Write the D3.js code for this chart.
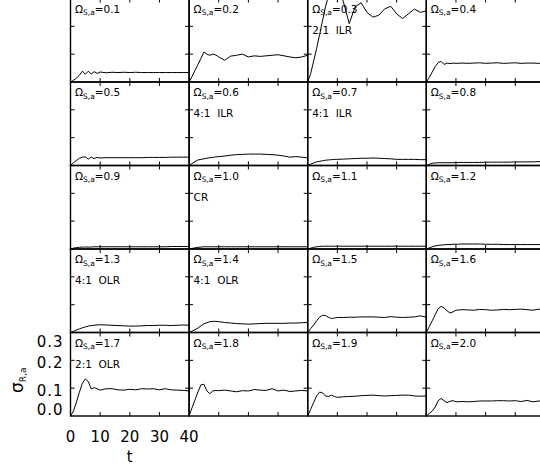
<!DOCTYPE html>
<html>
<head>
<meta charset="utf-8">
<script src="https://cdn.jsdelivr.net/npm/d3@7"></script>
<style>
  html, body { margin: 0; padding: 0; background: #fff; }
  svg { display: block; font-family: "DejaVu Sans", sans-serif; }
  text { white-space: pre; }
</style>
</head>
<body>
<svg id="chart" width="540" height="467"></svg>
<script>
// ---- data ----
const times = [0,1,2,3,4,5,6,7,8,9,10,12,14,16,18,20,22,24,26,28,30,32,34,36,38,40];

const omegaLabels = ["0.1","0.2","0.3","0.4","0.5","0.6","0.7","0.8","0.9","1.0",
                     "1.1","1.2","1.3","1.4","1.5","1.6","1.7","1.8","1.9","2.0"];
const resonanceLabels = ["","","2:1  ILR","","","4:1  ILR","4:1  ILR","","","CR",
                         "","","4:1  OLR","4:1  OLR","","","2:1  OLR","","",""];

const xTickValues = [0,10,20,30,40];
const xTickLabels = ["0","10","20","30","40"];
const yTickValues = [0,0.1,0.2,0.3];
const yTickLabels = ["0.0","0.1","0.2","0.3"];

const sigma01 = [0,0.006,0.014,0.024,0.039,0.028,0.039,0.029,0.037,0.031,0.036,0.033,0.035,0.034,0.035,0.034,0.035,0.034,0.034,0.034,0.034,0.034,0.034,0.034,0.034,0.034];
const sigma02 = [0,0.02,0.042,0.063,0.085,0.108,0.1,0.096,0.1,0.097,0.09,0.078,0.093,0.096,0.1,0.09,0.094,0.092,0.094,0.096,0.098,0.094,0.09,0.087,0.09,0.096];
const sigma03 = [0,0.03,0.075,0.12,0.17,0.22,0.27,0.31,0.34,0.35,0.34,0.29,0.21,0.27,0.285,0.25,0.233,0.24,0.263,0.272,0.245,0.228,0.245,0.262,0.25,0.256];
const sigma04 = [0,0.016,0.036,0.055,0.07,0.074,0.063,0.068,0.066,0.068,0.067,0.068,0.067,0.068,0.069,0.067,0.068,0.069,0.067,0.068,0.069,0.067,0.068,0.068,0.067,0.068];
const sigma05 = [0,0.01,0.018,0.026,0.03,0.031,0.023,0.03,0.025,0.029,0.027,0.028,0.028,0.028,0.028,0.028,0.028,0.028,0.029,0.029,0.029,0.029,0.03,0.03,0.03,0.03];
const sigma06 = [0,0.007,0.014,0.02,0.022,0.024,0.026,0.028,0.029,0.031,0.032,0.034,0.037,0.039,0.04,0.041,0.041,0.041,0.04,0.039,0.037,0.034,0.03,0.032,0.03,0.027];
const sigma07 = [0,0.005,0.009,0.013,0.015,0.017,0.019,0.02,0.021,0.022,0.022,0.023,0.024,0.025,0.026,0.026,0.027,0.026,0.025,0.024,0.022,0.022,0.022,0.022,0.021,0.021];
const sigma08 = [0,0.004,0.008,0.009,0.01,0.01,0.01,0.01,0.01,0.01,0.011,0.011,0.011,0.011,0.011,0.012,0.012,0.012,0.012,0.012,0.013,0.013,0.013,0.013,0.014,0.014];
const sigma09 = [0,0.003,0.005,0.006,0.007,0.007,0.007,0.007,0.008,0.008,0.008,0.008,0.008,0.008,0.008,0.008,0.008,0.008,0.008,0.008,0.008,0.008,0.009,0.009,0.009,0.009];
const sigma10 = [0,0.002,0.004,0.006,0.007,0.008,0.008,0.008,0.008,0.008,0.008,0.008,0.008,0.008,0.008,0.008,0.008,0.008,0.008,0.008,0.008,0.008,0.008,0.008,0.008,0.008];
const sigma11 = [0,0.003,0.006,0.008,0.009,0.01,0.01,0.01,0.01,0.01,0.01,0.01,0.01,0.01,0.01,0.01,0.01,0.01,0.01,0.01,0.01,0.01,0.01,0.01,0.01,0.01];
const sigma12 = [0,0.004,0.008,0.011,0.013,0.014,0.015,0.016,0.016,0.017,0.017,0.018,0.018,0.018,0.018,0.017,0.017,0.017,0.016,0.016,0.016,0.016,0.016,0.016,0.016,0.016];
const sigma13 = [0,0.004,0.009,0.013,0.017,0.02,0.023,0.025,0.026,0.027,0.028,0.027,0.026,0.025,0.024,0.023,0.023,0.024,0.025,0.025,0.026,0.026,0.025,0.026,0.027,0.026];
const sigma14 = [0,0.005,0.01,0.016,0.024,0.031,0.035,0.039,0.04,0.04,0.039,0.036,0.034,0.032,0.031,0.03,0.031,0.032,0.033,0.033,0.033,0.033,0.034,0.034,0.035,0.036];
const sigma15 = [0,0.014,0.027,0.042,0.055,0.062,0.061,0.055,0.05,0.052,0.054,0.054,0.055,0.055,0.056,0.056,0.056,0.055,0.054,0.057,0.055,0.054,0.055,0.056,0.06,0.055];
const sigma16 = [0,0.021,0.042,0.064,0.085,0.094,0.088,0.078,0.07,0.074,0.08,0.082,0.081,0.08,0.083,0.082,0.08,0.081,0.083,0.082,0.083,0.084,0.082,0.08,0.084,0.083];
const sigma17 = [0,0.018,0.05,0.085,0.118,0.133,0.124,0.097,0.102,0.098,0.093,0.098,0.098,0.094,0.093,0.096,0.094,0.098,0.097,0.098,0.094,0.098,0.094,0.093,0.092,0.09];
const sigma18 = [0,0.03,0.058,0.087,0.112,0.114,0.09,0.08,0.09,0.092,0.091,0.093,0.09,0.087,0.091,0.09,0.095,0.093,0.092,0.098,0.09,0.093,0.088,0.09,0.092,0.09];
const sigma19 = [0,0.024,0.048,0.072,0.086,0.083,0.072,0.07,0.075,0.07,0.067,0.069,0.07,0.071,0.073,0.074,0.075,0.073,0.072,0.073,0.074,0.075,0.075,0.072,0.071,0.072];
const sigma20 = [0,0.009,0.018,0.032,0.055,0.063,0.055,0.048,0.053,0.055,0.051,0.052,0.051,0.052,0.054,0.054,0.054,0.055,0.055,0.054,0.055,0.052,0.056,0.051,0.054,0.053];

const allSeries = [sigma01,sigma02,sigma03,sigma04,sigma05,sigma06,sigma07,sigma08,sigma09,sigma10,
                   sigma11,sigma12,sigma13,sigma14,sigma15,sigma16,sigma17,sigma18,sigma19,sigma20];

// ---- layout ----
const svg = d3.select("#chart");
svg.append("rect").attr("width",540).attr("height",467).attr("fill","#fff");

const nCols = 4;
const gridLeft = 70.5, panelW = 118.6;
const gridTop = -1.5, panelH = 83.5;
const tickLen = 4;

const panels = allSeries.map((vals, i) => ({ vals, i, col: i % nCols, row: Math.floor(i / nCols) }));

const defs = svg.append("defs");

panels.forEach(p => {
  const left = gridLeft + p.col * panelW;
  const top = gridTop + p.row * panelH;
  const x = d3.scaleLinear().domain([0,40]).range([left, left + panelW]);
  const y = d3.scaleLinear().domain([0,0.3]).range([top + panelH, top]);
  const g = svg.append("g");

  defs.append("clipPath").attr("id","clip"+p.i)
    .append("rect").attr("x",left).attr("y",top).attr("width",panelW).attr("height",panelH);

  // curve
  const line = d3.line().x((d,k) => x(times[k])).y(d => y(d));
  g.append("path").datum(p.vals)
    .attr("d", line)
    .attr("fill","none").attr("stroke","#000").attr("stroke-width",1)
    .attr("stroke-linejoin","round")
    .attr("clip-path","url(#clip"+p.i+")");

  // inner ticks on all four sides
  const xt = [10,20,30], yt = [0.1,0.2];
  const tk = g.append("g").attr("stroke","#000").attr("stroke-width",1);
  xt.forEach(v => {
    tk.append("line").attr("x1",x(v)).attr("x2",x(v)).attr("y1",y(0)).attr("y2",y(0)-tickLen);
    tk.append("line").attr("x1",x(v)).attr("x2",x(v)).attr("y1",y(0.3)).attr("y2",y(0.3)+tickLen);
  });
  yt.forEach(v => {
    tk.append("line").attr("x1",x(0)).attr("x2",x(0)+tickLen).attr("y1",y(v)).attr("y2",y(v));
    tk.append("line").attr("x1",x(40)).attr("x2",x(40)-tickLen).attr("y1",y(v)).attr("y2",y(v));
  });

  // frame
  g.append("rect").attr("x",left).attr("y",top).attr("width",panelW).attr("height",panelH)
    .attr("fill","none").attr("stroke","#000").attr("stroke-width",1.4);

  // labels
  const lx = left + 4.5;
  const t1 = g.append("text").attr("x",lx).attr("y",top + 14).attr("font-size",10.5).attr("fill","#000");
  t1.append("tspan").text("Ω");
  t1.append("tspan").attr("font-size",7.5).attr("dy",2.5).text("S,a");
  t1.append("tspan").attr("dy",-2.5).text("=" + omegaLabels[p.i]);
  if (resonanceLabels[p.i]) {
    g.append("text").attr("x",lx).attr("y",top + 35).attr("font-size",10.5).attr("fill","#000")
      .text(resonanceLabels[p.i]);
  }

  // axis labels on bottom-left panel
  if (p.col === 0 && p.row === 4) {
    g.selectAll(".xl").data(xTickValues).enter().append("text")
      .attr("x", d => x(d)).attr("y", y(0) + 26)
      .attr("text-anchor","middle").attr("font-size",15).attr("fill","#000")
      .text((d,k) => xTickLabels[k]);
    g.selectAll(".yl").data(yTickValues).enter().append("text")
      .attr("x", left - 7)
      .attr("y", d => Math.min(Math.max(y(d) + 2.5, top + 9.5), top + panelH - 6))
      .attr("dominant-baseline","central")
      .attr("text-anchor","end").attr("font-size",15).attr("letter-spacing",1).attr("fill","#000")
      .text((d,k) => yTickLabels[k]);
    g.append("text").attr("x", x(20)).attr("y", y(0) + 46)
      .attr("text-anchor","middle").attr("font-size",15).attr("fill","#000").text("t");
    const yl = g.append("text").attr("transform","translate(22.5," + (top + panelH - 23) + ") rotate(-90)")
      .attr("font-size",17).attr("fill","#000");
    yl.append("tspan").text("σ");
    yl.append("tspan").attr("font-size",9).attr("dy",3.5).text("R,a");
  }
});
</script>
</body>
</html>
